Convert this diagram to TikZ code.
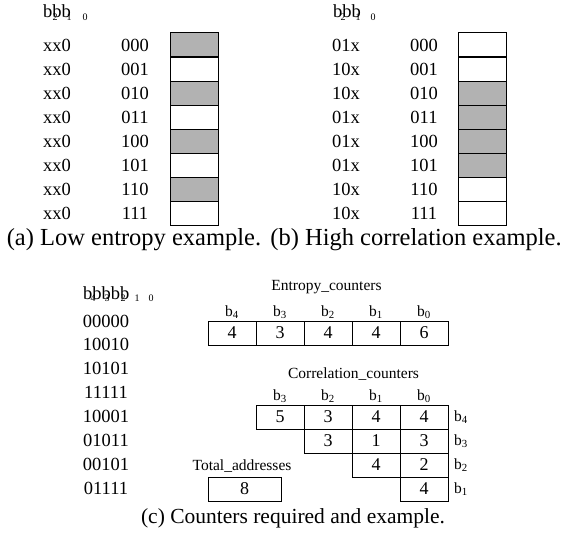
\documentclass[tikz,border=0pt]{standalone}
\usepackage{fontspec}
\setmainfont{Liberation Serif}
\newcommand{\bsub}[1]{b\textsubscript{#1}}

\begin{document}
\begin{tikzpicture}[x=1pt, y=-1pt,
    cell/.style={draw, line width=1pt, minimum width=48pt, minimum height=24pt, inner sep=0pt, font=\fontsize{18}{20}\selectfont},
    hit/.style={cell, fill=black!30},
    txt/.style={inner sep=0pt, font=\fontsize{18.5}{20}\selectfont},
    lbl/.style={inner sep=0pt, font=\fontsize{15.5}{18}\selectfont},
    sub/.style={inner sep=0pt, anchor=base, font=\fontsize{10}{11}\selectfont},
    capt/.style={inner sep=0pt, font=\fontsize{24.5}{26}\selectfont}]
      \useasboundingbox (0,0) rectangle (562,540);

      % (a) low entropy
      \node[txt, anchor=base west] (ahead) at (43, 18) [] {bbb};
      \foreach \n/\xpos in {2/55, 1/69, 0/85}
        \node[sub] (asub\n) at (\xpos, 21) [] {\n};
      \foreach \addr/\tag/\look [count=\i from 0] in {000/xx0/hit, 001/xx0/cell, 010/xx0/hit, 011/xx0/cell, 100/xx0/hit, 101/xx0/cell, 110/xx0/hit, 111/xx0/cell} {
        \node[txt] (atag\i) at (57, 45+24.1*\i) [] {\tag};
        \node[txt] (aaddr\i) at (135, 45+24.1*\i) [] {\addr};
        \node[\look] (acell\i) at (194, 45+24.1*\i) [] {};
      }
      \node[capt] (acap) at (134, 240) [] {(a) Low entropy example.};

      % (b) high correlation
      \node[txt, anchor=base west] (bhead) at (333, 18) [] {bbb};
      \foreach \n/\xpos in {2/343, 1/358, 0/373}
        \node[sub] (bsub\n) at (\xpos, 21) [] {\n};
      \foreach \addr/\tag/\look [count=\i from 0] in {000/01x/cell, 001/10x/cell, 010/10x/hit, 011/01x/hit, 100/01x/hit, 101/01x/hit, 110/10x/cell, 111/10x/cell} {
        \node[txt] (btag\i) at (346, 45+24.1*\i) [] {\tag};
        \node[txt] (baddr\i) at (424, 45+24.1*\i) [] {\addr};
        \node[\look] (bcell\i) at (482, 45+24.1*\i) [] {};
      }
      \node[capt] (bcap) at (416, 240) [] {(b) High correlation example.};

      % (c) counters
      \node[txt, anchor=base west] (chead) at (83, 299) [] {bbbbb};
      \foreach \n/\xpos in {4/93, 3/107, 2/123, 1/137, 0/151}
        \node[sub] (csub\n) at (\xpos, 301) [] {\n};
      \foreach \addr [count=\i from 0] in {00000, 10010, 10101, 11111, 10001, 01011, 00101, 01111}
        \node[txt] (caddr\i) at (106, 321+23.9*\i) [] {\addr};

      \node[lbl] (enttitle) at (326.5, 287) [] {Entropy\_counters};
      \foreach \bit/\val [count=\i from 0] in {4/4, 3/3, 2/4, 1/4, 0/6} {
        \node[lbl] (ebit\bit) at (232+48*\i, 312) [] {\bsub{\bit}};
        \node[cell] (ent\bit) at (232+48*\i, 333) [] {\val};
      }

      \node[lbl] (cortitle) at (353.5, 374) [] {Correlation\_counters};
      \foreach \bit [count=\i from 1] in {3, 2, 1, 0}
        \node[lbl] (cbit\bit) at (232+48*\i, 396) [] {\bsub{\bit}};
      \foreach \row/\col/\val in {0/1/5, 0/2/3, 0/3/4, 0/4/4, 1/2/3, 1/3/1, 1/4/3, 2/3/4, 2/4/2, 3/4/4}
        \node[cell] (cor\row\col) at (232+48*\col, 417+24*\row) [] {\val};
      \foreach \bit [count=\row from 0] in {4, 3, 2, 1}
        \node[lbl, anchor=west] (rbit\bit) at (454, 417+24*\row) [] {\bsub{\bit}};

      \node[lbl] (tottitle) at (242, 466) [] {Total\_addresses};
      \node[cell, minimum width=73pt] (total) at (244.5, 489) [] {8};

      \node[capt, font=\fontsize{21.5}{24}\selectfont] (ccap) at (293, 518) [] {(c) Counters required and example.};
    \end{tikzpicture}
\end{document}
